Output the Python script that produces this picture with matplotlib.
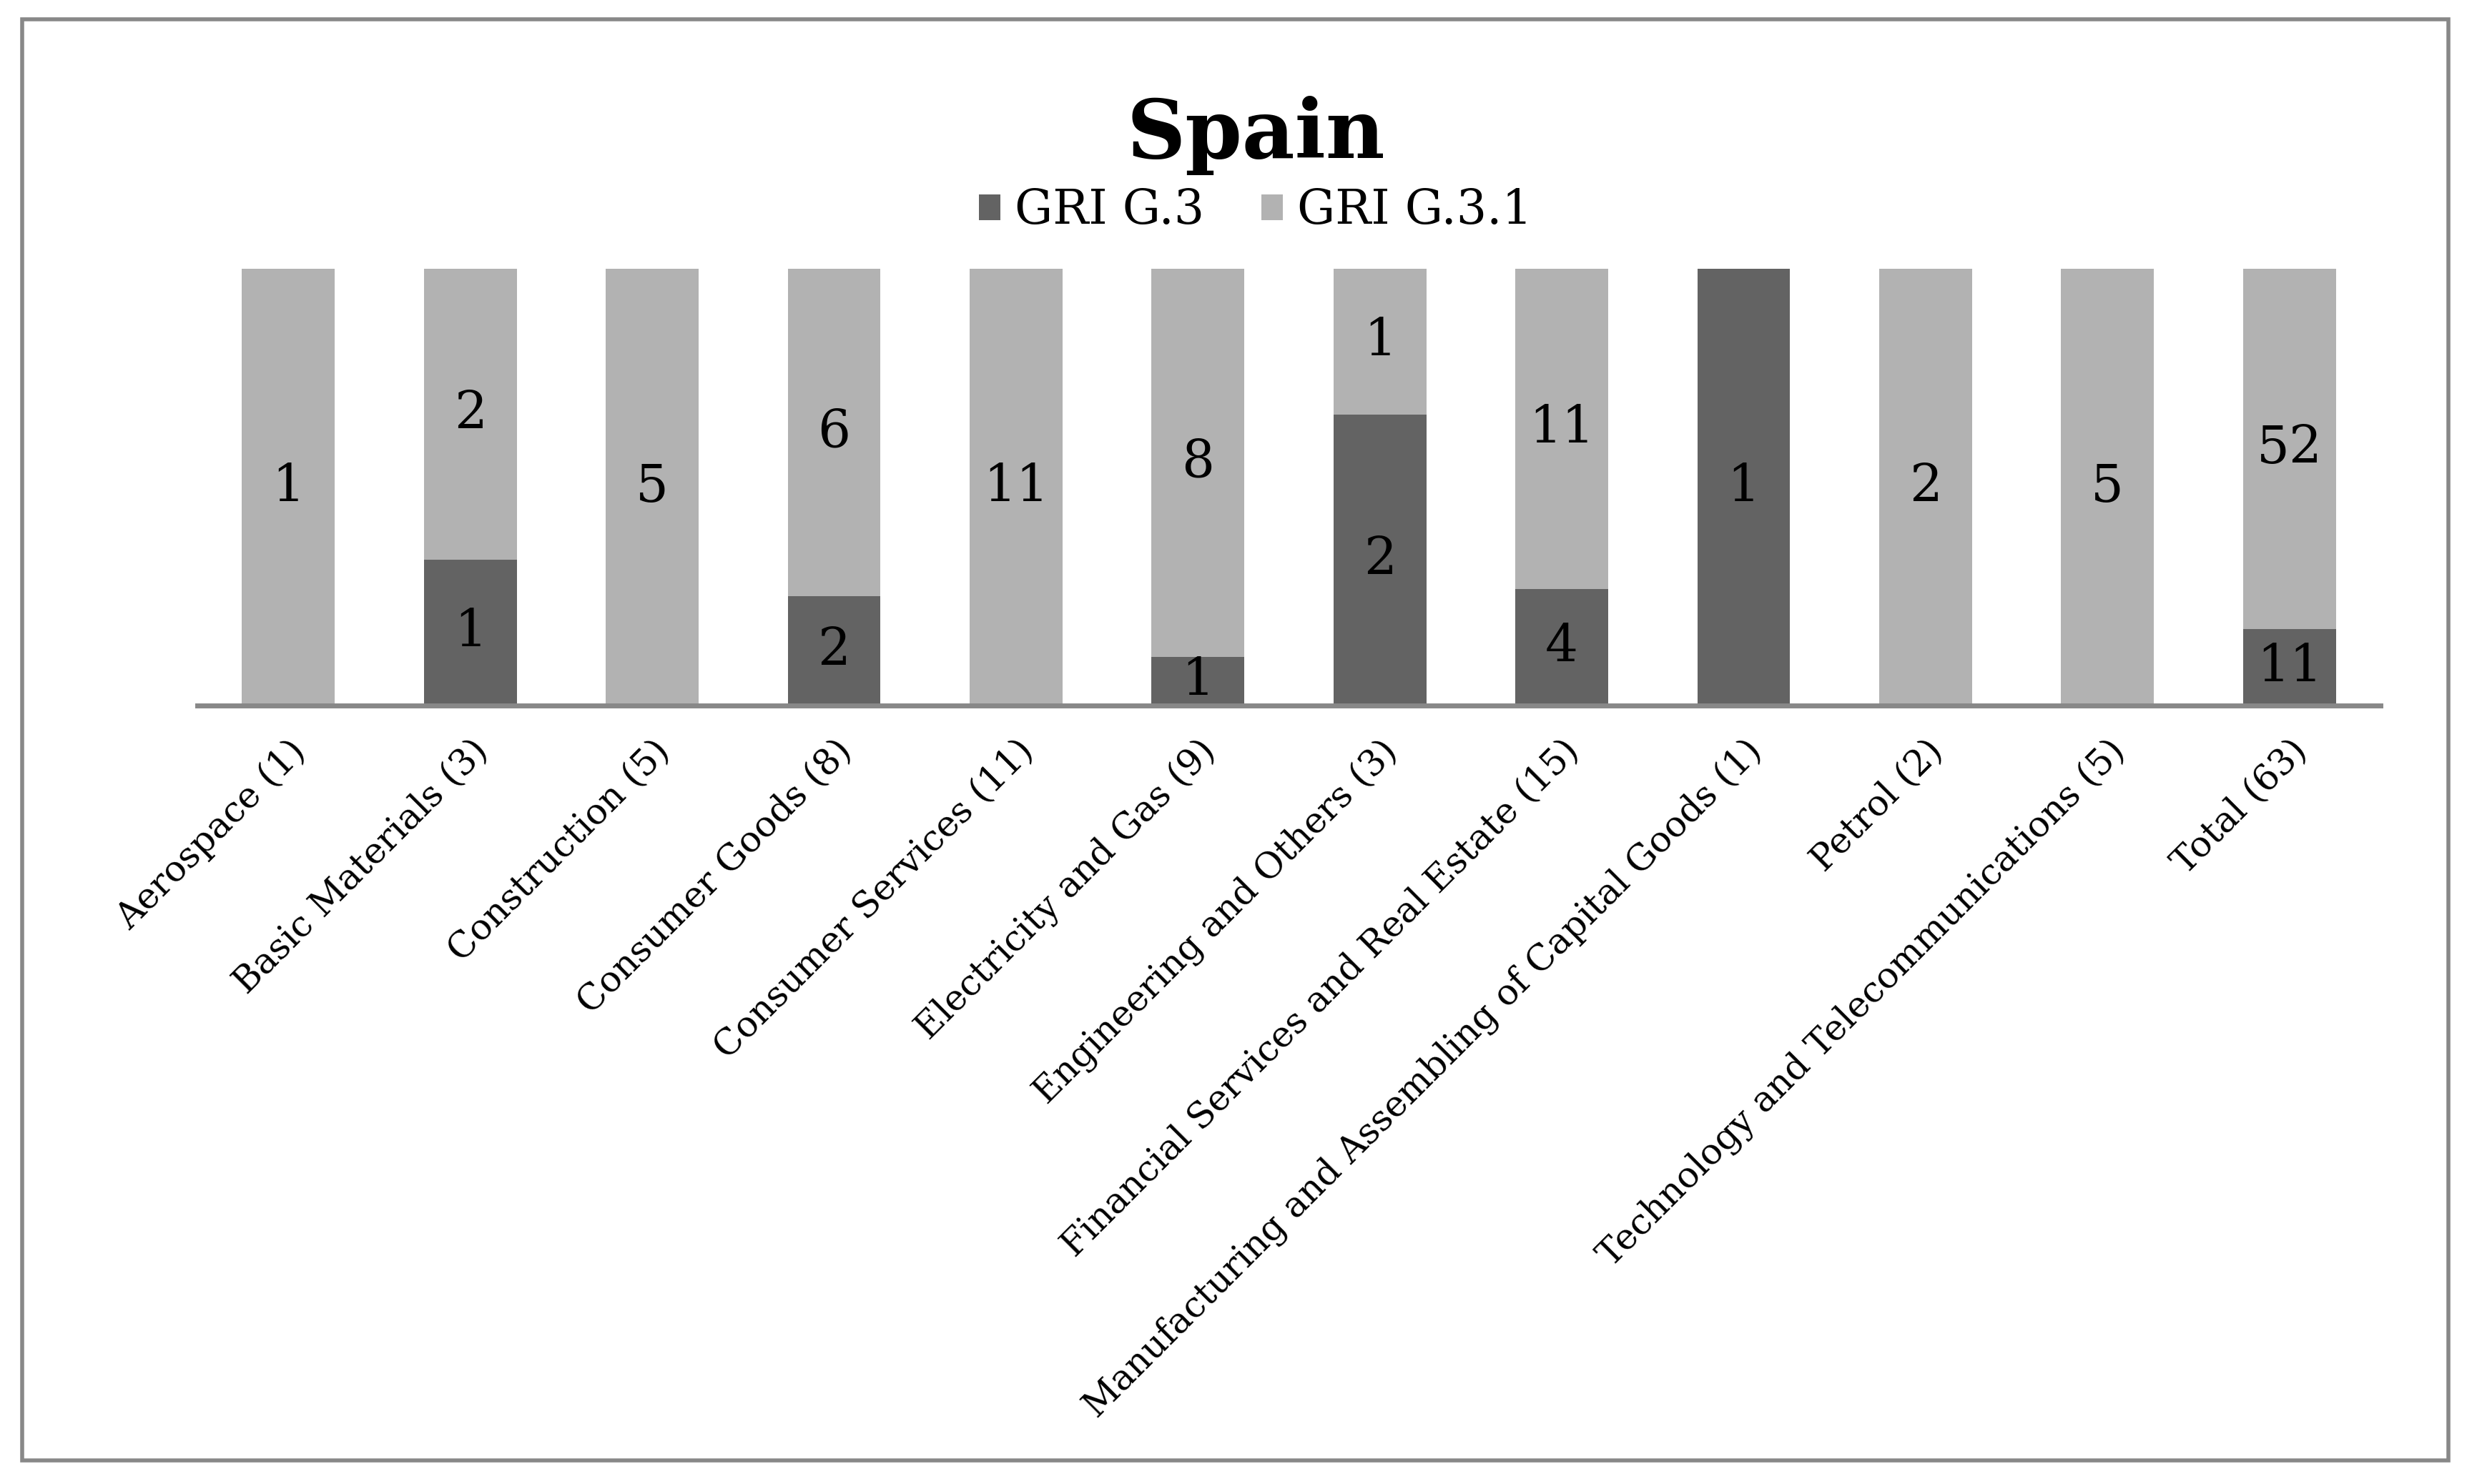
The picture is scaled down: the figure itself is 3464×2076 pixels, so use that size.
import numpy as np
import matplotlib.pyplot as plt
from matplotlib.patches import Rectangle

categories = ['Aerospace (1)', 'Basic Materials (3)', 'Construction (5)', 'Consumer Goods (8)',
              'Consumer Services (11)', 'Electricity and Gas (9)', 'Engineering and Others (3)',
              'Financial Services and Real Estate (15)', 'Manufacturing and Assembling of Capital Goods (1)',
              'Petrol (2)', 'Technology and Telecommunications (5)', 'Total (63)']
g3 = [0, 1, 0, 2, 0, 1, 2, 4, 1, 0, 0, 11]
g31 = [1, 2, 5, 6, 11, 8, 1, 11, 0, 2, 5, 52]

dark = '#636363'
light = '#b2b2b2'
edge = '#888888'

plt.rcParams['font.family'] = ['DejaVu Serif']

g3 = np.array(g3, dtype=float)
g31 = np.array(g31, dtype=float)
tot = g3 + g31
p3 = g3 / tot
p31 = g31 / tot
x = np.arange(len(categories))

fig = plt.figure(figsize=(34.64, 20.76), dpi=100)
ax = fig.add_axes([0.0797, 0.5246, 0.8813, 0.2943])

b1 = ax.bar(x, p3, width=0.51, color=dark, label='GRI G.3')
b2 = ax.bar(x, p31, width=0.51, bottom=p3, color=light, label='GRI G.3.1')

for i in range(len(x)):
    if g3[i] > 0:
        ax.text(x[i], p3[i] / 2, '%d' % g3[i], ha='center', va='center', fontsize=52)
    if g31[i] > 0:
        ax.text(x[i], p3[i] + p31[i] / 2, '%d' % g31[i], ha='center', va='center', fontsize=52)

ax.set_xlim(-0.5, len(x) - 0.5)
ax.set_ylim(0, 1)
for s in ['top', 'right', 'left']:
    ax.spines[s].set_visible(False)
ax.spines['bottom'].set_color(edge)
ax.spines['bottom'].set_linewidth(5)
ax.set_yticks([])
ax.set_xticks(x)
ax.set_xticklabels(categories, rotation=45, ha='right', rotation_mode='anchor',
                   fontsize=36)
ax.tick_params(axis='x', length=0, pad=28)

fig.text(0.507, 0.8935, 'Spain', ha='center', va='baseline', fontsize=82, fontweight='bold')
fig.legend(handles=[b1, b2], loc='center', bbox_to_anchor=(0.507, 0.858), ncol=2,
           frameon=False, fontsize=48, handlelength=0.45, handleheight=0.45,
           handletextpad=0.3, columnspacing=1.2)

fig.patches.append(Rectangle((0.0089, 0.0159), 0.9796, 0.9711, transform=fig.transFigure,
                             fill=False, edgecolor=edge, linewidth=4))

fig.savefig('out.png', dpi=100)
